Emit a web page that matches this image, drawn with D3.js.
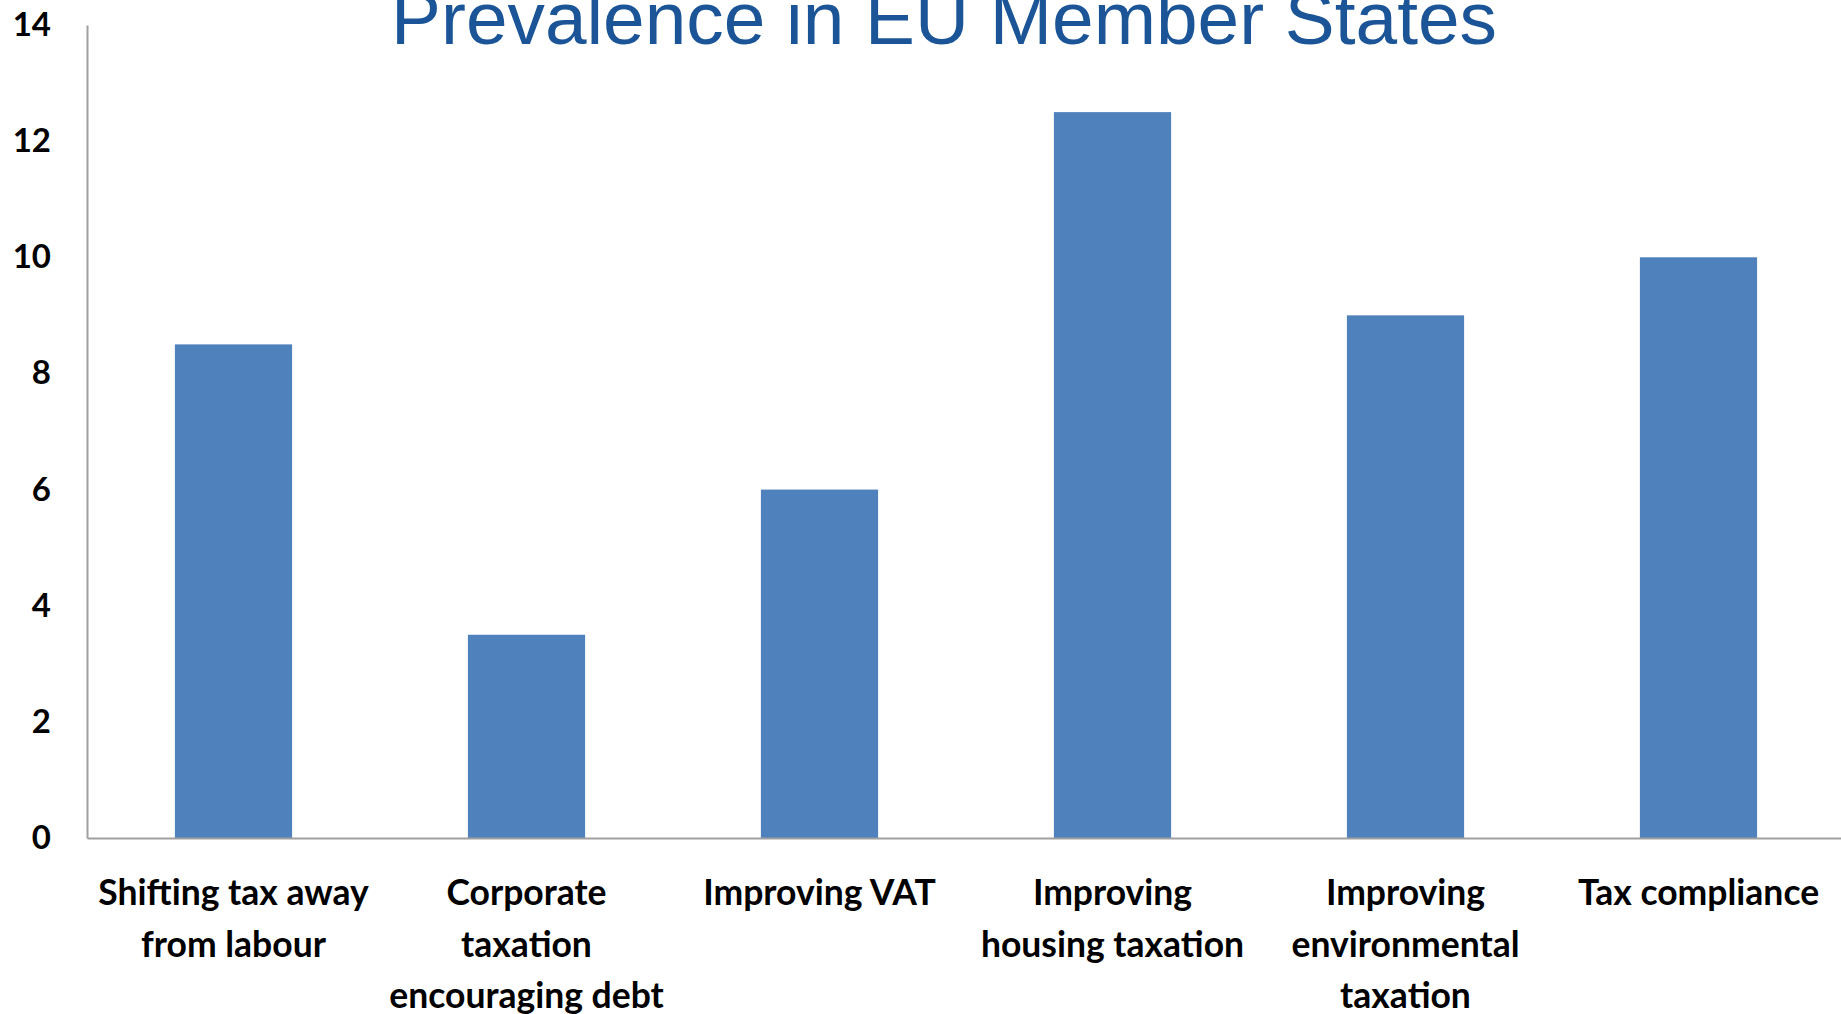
<!DOCTYPE html>
<html>
<head>
<meta charset="utf-8">
<script src="https://cdn.jsdelivr.net/npm/d3@7"></script>
<style>
  html, body { margin: 0; padding: 0; background: #ffffff; overflow: hidden; }
  svg { display: block; }
</style>
</head>
<body>
<svg id="chart" width="1841" height="1014"></svg>
<script>
const categories = [
  ["Shifting tax away", "from labour"],
  ["Corporate", "taxation", "encouraging debt"],
  ["Improving VAT"],
  ["Improving", "housing taxation"],
  ["Improving", "environmental", "taxation"],
  ["Tax compliance"]
];
const values = [8.5, 3.5, 6, 12.5, 9, 10];
const yTicks = [0, 2, 4, 6, 8, 10, 12, 14];
const titleText = "Prevalence in EU Member States";

const svg = d3.select("#chart");
const keys = categories.map((c, i) => "c" + i);

const x = d3.scaleBand()
  .domain(keys)
  .range([87, 1845])
  .paddingInner(0.6)
  .paddingOuter(0.3);

const y = d3.scaleLinear()
  .domain([0, 14])
  .range([838, 25]);

// Title
svg.append("text")
  .attr("x", 944)
  .attr("y", 44)
  .attr("text-anchor", "middle")
  .attr("font-family", "'Liberation Sans', Arial, sans-serif")
  .attr("font-size", 74.8)
  .attr("fill", "#1b5597")
  .text(titleText);

// Bars
svg.append("g")
  .selectAll("rect")
  .data(values)
  .join("rect")
  .attr("x", (d, i) => x(keys[i]))
  .attr("width", x.bandwidth())
  .attr("y", d => y(d))
  .attr("height", d => y(0) - y(d))
  .attr("fill", "#4f81bd");

// Y axis
const yAxis = svg.append("g")
  .attr("transform", "translate(87,0)")
  .call(d3.axisLeft(y).tickValues(yTicks).tickSize(0).tickPadding(36).tickFormat(d3.format("d")));
yAxis.select(".domain").attr("stroke", "#a0a0a0").attr("stroke-width", 2);
yAxis.selectAll("text")
  .attr("font-family", "Lato, 'Open Sans', sans-serif")
  .attr("font-weight", "bold")
  .attr("font-size", 33)
  .attr("fill", "#000");

// X axis
const xAxis = svg.append("g")
  .attr("transform", "translate(0,838)")
  .call(d3.axisBottom(x).tickSize(0).tickFormat(""));
xAxis.select(".domain").attr("stroke", "#a0a0a0").attr("stroke-width", 2);

const labels = svg.append("g")
  .selectAll("text")
  .data(categories)
  .join("text")
  .attr("text-anchor", "middle")
  .attr("font-family", "Lato, 'Open Sans', sans-serif")
  .attr("font-weight", "bold")
  .attr("font-size", 35.5)
  .attr("fill", "#000")
  .attr("transform", (d, i) => `translate(${x(keys[i]) + x.bandwidth() / 2},905)`);

labels.selectAll("tspan")
  .data(d => d)
  .join("tspan")
  .attr("x", 0)
  .attr("y", (d, j) => j * 51.5)
  .text(d => d);
</script>
</body>
</html>
